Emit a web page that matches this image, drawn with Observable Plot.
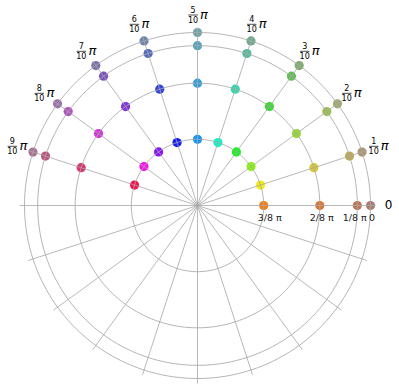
<!DOCTYPE html>
<html><head><meta charset="utf-8">
<script src="https://cdn.jsdelivr.net/npm/d3@7"></script>
<script src="https://cdn.jsdelivr.net/npm/@observablehq/plot@0.6"></script>
<style>body{margin:0;background:#fff;}</style>
</head><body><div id="chart"></div>
<script>
// angular grid: k * π/10, k = 0..19
const spokeSteps = d3.range(20);
// angular tick labels (k/10 π), k = 1..9, plus "0"
const angleNumerators = [1, 2, 3, 4, 5, 6, 7, 8, 9];
const angleDenominator = 10;
const zeroAngleLabel = "0";
// elevations (units of π) -> radius = cos(elevation)
const elevations = [0, 1/8, 2/8, 3/8];
const radialLabels = ["0", "1/8 π", "2/8 π", "3/8 π"];
// azimuths of the plotted points (units of π/10)
const pointAzimuths = [0, 1, 2, 3, 4, 5, 6, 7, 8, 9];
// colour: hue by azimuth, saturation by elevation
const hueByAzimuth = [28, 58, 88, 122, 168, 205, 238, 272, 302, 345];
const hueShift = [18, 10, 4, 0];
const satByElev = [0.25, 0.45, 0.68, 0.9];
const lightByElev = [0.56, 0.54, 0.53, 0.52];

const PI = Math.PI;
const pol = (rho, theta) => [rho * Math.cos(theta), rho * Math.sin(theta)];
const PX = 1 / 173; // one pixel in data units

const points = pointAzimuths.flatMap(k => elevations.map((e, i) => {
  const [x, y] = pol(Math.cos(e * PI), k * PI / 10);
  const c = d3.hsl(hueByAzimuth[k] - hueShift[i], satByElev[i], lightByElev[i]).formatHex();
  return {k, e, x, y, c};
}));

const rings = elevations.flatMap((e, i) => d3.range(0, 361, 2).map(a => {
  const [x, y] = pol(Math.cos(e * PI), a * PI / 180);
  return {ring: i, x, y};
}));

const spokeEnd = 178 * PX;
const spokes = spokeSteps.map(k => {
  const [x, y] = pol(spokeEnd, k * PI / 10);
  return {x1: 0, y1: 0, x2: x, y2: y};
});

const labR = 190 * PX;
const angLabels = angleNumerators.map(n => {
  const [x, y] = pol(labR, n * PI / angleDenominator);
  return {n: String(n), d: String(angleDenominator), x, y};
});
const [zx, zy] = pol(191 * PX, 0);

// small horizontal nudges (px) of radial labels, as in the reference
const radialNudge = [1.5, -2.5, 2, 6];
const radLabels = elevations.map((e, i) => ({x: Math.cos(e * PI) + radialNudge[i] * PX, y: 0, t: radialLabels[i]}));

const font = "DejaVu Sans";
const chart = Plot.plot({
  width: 399, height: 390,
  marginLeft: 24, marginRight: 29, marginTop: 32, marginBottom: 12,
  x: {domain: [-1, 1], axis: null},
  y: {domain: [-1, 1], axis: null},
  style: {fontFamily: font, background: "white", overflow: "visible"},
  marks: [
    Plot.dot(points, {x: "x", y: "y", r: 4.6, fill: d => d.c, stroke: "none"}),
    Plot.line(rings, {x: "x", y: "y", z: "ring", stroke: "#a8a8a8", strokeOpacity: 0.85, strokeWidth: 1}),
    Plot.link(spokes, {x1: "x1", y1: "y1", x2: "x2", y2: "y2", stroke: "#a8a8a8", strokeOpacity: 0.8, strokeWidth: 1}),
    // fraction labels
    Plot.text(angLabels, {x: "x", y: "y", text: "n", dx: -4.5, dy: -5.5, fontSize: 8, fill: "black", textAnchor: "middle", lineAnchor: "middle"}),
    Plot.text(angLabels, {x: "x", y: "y", text: "d", dx: -4.5, dy: 5, fontSize: 8, fill: "black", textAnchor: "middle", lineAnchor: "middle"}),
    Plot.link(angLabels, {x1: "x", y1: "y", x2: d => d.x + 9.5 * PX, y2: "y", dx: -9.2, dy: -0.5, stroke: "black", strokeWidth: 0.7}),
    Plot.text(angLabels, {x: "x", y: "y", text: () => "π", dx: 6.5, dy: -1, fontSize: 13, fontStyle: "italic", fill: "black", textAnchor: "middle", lineAnchor: "middle"}),
    Plot.text([{x: zx, y: zy}], {x: "x", y: "y", text: () => zeroAngleLabel, fontSize: 12, fill: "black", textAnchor: "middle", lineAnchor: "middle"}),
    // radial labels
    Plot.text(radLabels, {x: "x", y: "y", text: "t", dy: 12.5, fontSize: 9.5, fill: "#222", textAnchor: "middle", lineAnchor: "middle"})
  ]
});
document.getElementById("chart").append(chart);
</script>
</body></html>
